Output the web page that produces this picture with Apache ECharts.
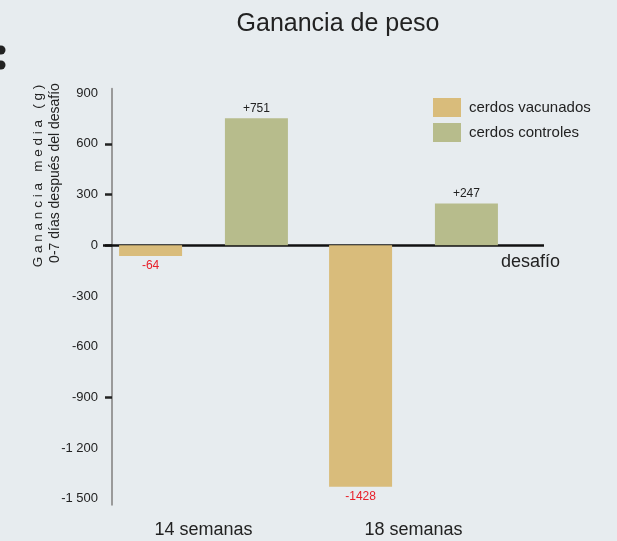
<!DOCTYPE html>
<html>
<head>
<meta charset="utf-8">
<script src="https://cdn.jsdelivr.net/npm/echarts@6/dist/echarts.min.js"></script>
<style>
html,body{margin:0;padding:0;background:#e7ecef;}
#c{width:617px;height:541px;}
</style>
</head>
<body>
<div id="c"></div>
<script>
const categories = ['14 semanas', '18 semanas'];
const vacunados = [-64, -1428];
const controles = [751, 247];
const yTickLabels = [-1500, -1200, -900, -600, -300, 0, 300, 600, 900];
const yTickMarks = [600, 300, 0, -900];

const FONT = '"Liberation Sans", Arial, Helvetica, sans-serif';

function fmtY(v) {
  return String(v).replace(/(\d)(\d{3})$/, '$1 $2');
}
function barData(arr) {
  return arr.map(v => ({
    value: v,
    label: {
      position: v < 0 ? 'bottom' : 'top',
      color: v < 0 ? '#e8202a' : '#222'
    }
  }));
}
const labelOpt = {
  show: true, distance: 4, fontSize: 12, fontFamily: FONT,
  formatter: p => (p.value > 0 ? '+' + p.value : String(p.value))
};

const chart = echarts.init(document.getElementById('c'), null, {renderer: 'canvas'});
chart.setOption({
  backgroundColor: '#e7ecef',
  animation: false,
  textStyle: {fontFamily: FONT},
  title: {
    text: 'Ganancia de peso',
    left: 333, top: 7, textAlign: 'center',
    textStyle: {fontSize: 25, fontWeight: 'normal', color: '#222', fontFamily: FONT}
  },
  legend: {
    orient: 'vertical', left: 428, top: 93,
    itemWidth: 28, itemHeight: 19, itemGap: 6, icon: 'rect',
    textStyle: {fontSize: 15, color: '#222', fontFamily: FONT, padding: [0, 0, 0, 3]},
    data: ['cerdos vacunados', 'cerdos controles']
  },
  grid: {left: 98.5, width: 420, top: 88.8, height: 416},
  xAxis: {
    type: 'category', data: categories,
    axisLine: {show: false, onZero: false},
    axisTick: {show: false},
    axisLabel: {fontSize: 18, color: '#222', margin: 16, fontFamily: FONT}
  },
  yAxis: {
    type: 'value', min: -1535, max: 925, offset: -13.5,
    axisLine: {show: true, onZero: false, lineStyle: {color: '#9a9a9a', width: 2}},
    axisTick: {show: true, customValues: yTickMarks, length: 7, lineStyle: {color: '#222', width: 2.5}},
    axisLabel: {customValues: yTickLabels, formatter: fmtY, fontSize: 13, color: '#222', margin: 14, fontFamily: FONT},
    splitLine: {show: false}
  },
  series: [
    {
      name: 'cerdos vacunados', type: 'bar', data: barData(vacunados),
      itemStyle: {color: '#d9bc7b'}, barWidth: 63, barGap: '68%', z: 2,
      label: labelOpt,
      markLine: {
        silent: true, symbol: 'none', z: 1,
        label: {show: false},
        lineStyle: {color: '#111', width: 2.5, type: 'solid'},
        data: [[{yAxis: 0, x: 103}, {yAxis: 0, x: 544}]]
      }
    },
    {
      name: 'cerdos controles', type: 'bar', data: barData(controles),
      itemStyle: {color: '#b7bc8c'}, barWidth: 63, barGap: '68%', z: 2,
      label: labelOpt
    }
  ],
  graphic: [
    {type: 'circle', shape: {cx: 1, cy: 50, r: 4.5}, style: {fill: '#222'}},
    {type: 'circle', shape: {cx: 1, cy: 65, r: 4.5}, style: {fill: '#222'}},
    {type: 'text', x: 501, y: 253, style: {text: 'desafío', fontSize: 18, fill: '#222', fontFamily: FONT}},
    {type: 'text', x: 38, y: 176, rotation: Math.PI / 2,
      style: {text: 'G a n a n c i a   m e d i a   ( g )', fontSize: 13.5, fill: '#222', fontFamily: FONT, align: 'center', verticalAlign: 'middle'}},
    {type: 'text', x: 55, y: 173, rotation: Math.PI / 2,
      style: {text: '0-7 días después del desafío', fontSize: 14, fill: '#222', fontFamily: FONT, align: 'center', verticalAlign: 'middle'}}
  ]
});
</script>
</body>
</html>
